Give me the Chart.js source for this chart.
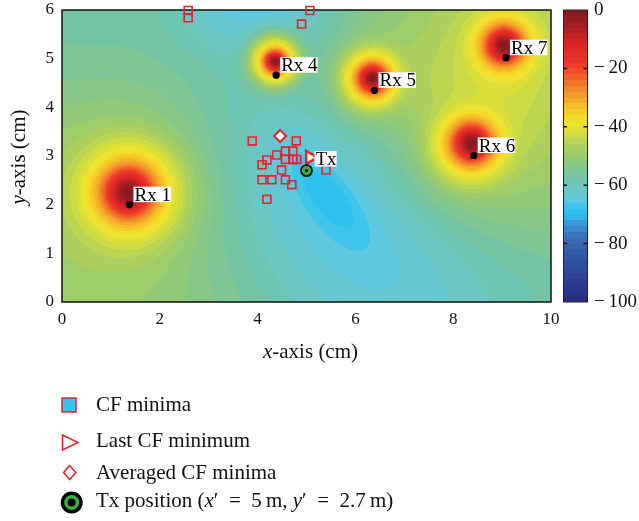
<!DOCTYPE html>
<html><head><meta charset="utf-8">
<script src="https://cdn.jsdelivr.net/npm/chart.js@4.4.1/dist/chart.umd.min.js"></script>
<style>html,body{margin:0;padding:0;background:#fff;overflow:hidden}#wrap{width:639px;height:521px;position:relative}</style>
</head><body><div id="wrap"><canvas id="c" width="639" height="521"></canvas></div>
<script>
// ---------------- data ----------------
const xTicks = [0, 2, 4, 6, 8, 10];
const yTicks = [0, 1, 2, 3, 4, 5, 6];
const cbTicks = [0, -20, -40, -60, -80, -100];

const rxNames = ['Rx 1', 'Rx 4', 'Rx 5', 'Rx 6', 'Rx 7'];
const rxX = [1.38, 4.38, 6.39, 8.42, 9.08];
const rxY = [2.00, 4.66, 4.35, 3.01, 5.02];

const cfMinX = [3.89, 4.79, 4.57, 4.72, 4.39, 4.19, 4.57, 4.72, 4.80, 4.09, 4.49, 5.40, 4.09, 4.29, 4.57, 4.70, 4.19, 2.58, 2.58, 4.90, 5.07];
const cfMinY = [3.31, 3.31, 3.10, 3.10, 3.02, 2.92, 2.93, 2.93, 2.93, 2.82, 2.71, 2.71, 2.51, 2.51, 2.51, 2.41, 2.11, 5.99, 5.84, 5.71, 5.99];
const lastMinX = [5.07];
const lastMinY = [2.97];
const avgMinX = [4.46];
const avgMinY = [3.41];
const txX = [5.0];
const txY = [2.7];

// cost-function map (dB)
const peakX = [1.36, 4.36, 6.35, 8.38, 9.04];
const peakY = [2.25, 4.94, 4.59, 3.26, 5.27];
const peakSpread = [1.3, 0.55, 0.75, 1.0, 0.95];
const haloAmp = [7, 3, 5, 8, 6];
const haloSigma = [1.2, 0.5, 0.8, 1.3, 1.1];
const profileDist = [0, 0.1, 0.2, 0.3, 0.4, 0.5, 0.65, 0.8, 1.0, 1.3, 2.0];
const profileDb = [0, -3, -9, -16, -24, -31, -38, -43, -50, -60, -80];
const bgLevel = -50;
const dipX = [5.37, 5.5, 4.0, 0.0, 9.5];
const dipY = [2.28, 2.0, 6.3, 6.0, -0.5];
const dipDepth = [-5.5, -14, -12, -6, -6];
const dipSigmaA = [0.85, 2.8, 1.3, 1.5, 3.0];
const dipSigmaB = [0.35, 1.9, 0.9, 1.5, 2.0];
const dipAngle = [-51, -53, 0, 0, 0];

const cmapValues = [0, -6, -12, -18, -23, -28, -33, -38, -42, -46, -50, -54, -58, -62, -65, -68, -70, -73, -78, -86, -94, -100];
const cmapColors = ['#7c1a1e','#a81e24','#dc2528','#ec3328','#f0622a','#f2922a','#f5be28','#f3e32b','#d6de3e','#b2d257','#98cb70','#82c68c','#70c4ac','#6ac7c9','#5ec8df','#30c3ef','#2fc0ef','#3a98d8','#3a6cb4','#2f52a0','#2a3c8e','#262c7c'];

// ---------------- helpers ----------------
const SERIF = '"Liberation Serif", "Times New Roman", serif';
const RED = '#e3242b';
const GREEN = '#3cb043';
const cmapRGB = cmapColors.map(h => [parseInt(h.slice(1,3),16), parseInt(h.slice(3,5),16), parseInt(h.slice(5,7),16)]);
function colorFor(v) {
  if (v >= cmapValues[0]) return cmapRGB[0];
  for (let k = 1; k < cmapValues.length; k++) {
    if (v >= cmapValues[k]) {
      const t = (cmapValues[k-1] - v) / (cmapValues[k-1] - cmapValues[k]);
      const a = cmapRGB[k-1], b = cmapRGB[k];
      return [a[0]+(b[0]-a[0])*t, a[1]+(b[1]-a[1])*t, a[2]+(b[2]-a[2])*t];
    }
  }
  return cmapRGB[cmapRGB.length-1];
}
function profile(d) {
  const n = profileDist.length;
  if (d >= profileDist[n-1]) {
    const s = (profileDb[n-1]-profileDb[n-2])/(profileDist[n-1]-profileDist[n-2]);
    return profileDb[n-1] + (d - profileDist[n-1]) * s;
  }
  for (let k = 1; k < n; k++) if (d <= profileDist[k]) {
    const t = (d - profileDist[k-1]) / (profileDist[k] - profileDist[k-1]);
    return profileDb[k-1] + t * (profileDb[k] - profileDb[k-1]);
  }
  return profileDb[n-1];
}
function fieldAt(x, y) {
  let bg = bgLevel;
  for (let k = 0; k < dipX.length; k++) {
    const a = dipAngle[k] * Math.PI / 180, dx = x - dipX[k], dy = y - dipY[k];
    const u = dx*Math.cos(a) + dy*Math.sin(a), v = -dx*Math.sin(a) + dy*Math.cos(a);
    bg += dipDepth[k] * Math.exp(-(u*u/(2*dipSigmaA[k]**2) + v*v/(2*dipSigmaB[k]**2)));
  }
  for (let i = 0; i < peakX.length; i++) {
    const d2 = (x-peakX[i])**2 + (y-peakY[i])**2;
    bg += haloAmp[i] * Math.exp(-d2/(2*haloSigma[i]**2));
  }
  let p = Math.pow(10, bg/10);
  for (let i = 0; i < peakX.length; i++) {
    const d = Math.hypot(x-peakX[i], y-peakY[i]) / peakSpread[i];
    p += Math.pow(10, profile(d)/10);
  }
  return Math.min(0, 10*Math.log10(p));
}
const BAND = 2;
function band(v) { return (Math.floor(v / BAND) + 0.5) * BAND; }

let fieldCache = null, fieldKey = '';
function buildField(chart) {
  const {left, top, right, bottom} = chart.chartArea;
  const key = [left, top, right, bottom].join(',');
  if (fieldCache && key === fieldKey) return fieldCache;
  const xs = chart.scales.x, ys = chart.scales.y;
  const w = Math.round(right-left), h = Math.round(bottom-top);
  const off = document.createElement('canvas'); off.width = w; off.height = h;
  const octx = off.getContext('2d');
  const img = octx.createImageData(w, h);
  for (let j = 0; j < h; j++) {
    const yv = ys.getValueForPixel(top + j + 0.5);
    for (let i = 0; i < w; i++) {
      const xv = xs.getValueForPixel(left + i + 0.5);
      const c = colorFor(band(fieldAt(xv, yv)));
      const o = (j*w + i) * 4;
      img.data[o] = c[0]; img.data[o+1] = c[1]; img.data[o+2] = c[2]; img.data[o+3] = 255;
    }
  }
  octx.putImageData(img, 0, 0);
  fieldCache = off; fieldKey = key;
  return off;
}
function drawSegments(ctx, segs, x, y, size, align) {
  const widths = segs.map(s => { ctx.font = (s[1] ? 'italic ' : '') + size + 'px ' + SERIF; return ctx.measureText(s[0]).width; });
  const total = widths.reduce((a,b)=>a+b,0);
  let cx = align === 'center' ? x - total/2 : x;
  segs.forEach((s, k) => { ctx.font = (s[1] ? 'italic ' : '') + size + 'px ' + SERIF; ctx.fillText(s[0], cx, y); cx += widths[k]; });
}

const mapPlugin = {
  id: 'mapPlugin',
  beforeDatasetsDraw(chart) {
    const ctx = chart.ctx, ca = chart.chartArea;
    ctx.save();
    ctx.drawImage(buildField(chart), Math.round(ca.left), Math.round(ca.top));
    ctx.strokeStyle = '#111'; ctx.lineWidth = 1.5;
    ctx.strokeRect(ca.left, ca.top, ca.right-ca.left, ca.bottom-ca.top);
    ctx.restore();
  },
  afterDatasetsDraw(chart) {
    const ctx = chart.ctx;
    ctx.save();
    const txMeta = chart.getDatasetMeta(0);
    txMeta.data.forEach(pt => { ctx.fillStyle = '#000'; ctx.beginPath(); ctx.arc(pt.x, pt.y, 1.6, 0, Math.PI*2); ctx.fill(); });
    ctx.font = '19px ' + SERIF; ctx.textBaseline = 'alphabetic'; ctx.textAlign = 'left';
    const label = (txt, tx, by) => {
      const w = ctx.measureText(txt).width;
      ctx.fillStyle = '#fff'; ctx.fillRect(tx - 1, by - 14, w + 1, 15.5);
      ctx.fillStyle = '#000'; ctx.fillText(txt, tx, by);
    };
    const rxMeta = chart.getDatasetMeta(3);
    rxMeta.data.forEach((pt, i) => label(rxNames[i], pt.x + 5, pt.y - 4));
    txMeta.data.forEach(pt => label('Tx', pt.x + 9, pt.y - 5.5));
    ctx.restore();
  },
  afterDraw(chart) {
    const ctx = chart.ctx, cb = chart.scales.cb, ca = chart.chartArea;
    ctx.save();
    const bx = cb.left + 12, bw = 24;
    for (let y = Math.floor(cb.top); y < cb.bottom; y++) {
      const v = cb.getValueForPixel(y + 0.5);
      const c = colorFor(band(v));
      ctx.fillStyle = 'rgb(' + c.map(Math.round).join(',') + ')';
      ctx.fillRect(bx, y, bw, 1);
    }
    ctx.strokeStyle = '#222'; ctx.lineWidth = 1;
    ctx.strokeRect(bx + 0.5, cb.top, bw, cb.bottom - cb.top);
    ctx.lineWidth = 1.5; ctx.strokeStyle = '#111';
    cbTicks.forEach(v => {
      if (v === 0 || v === -100) return;
      const y = cb.getPixelForValue(v);
      ctx.beginPath(); ctx.moveTo(bx, y); ctx.lineTo(bx + 4, y); ctx.moveTo(bx + bw + 0.5, y); ctx.lineTo(bx + bw - 3.5, y); ctx.stroke();
    });
    ctx.fillStyle = '#111'; ctx.textBaseline = 'alphabetic';
    drawSegments(ctx, [['x', true], ['-axis (cm)', false]], (ca.left + ca.right)/2 + 4, 358, 21, 'center');
    ctx.save(); ctx.translate(25, (ca.top + ca.bottom)/2 + 1); ctx.rotate(-Math.PI/2);
    drawSegments(ctx, [['y', true], ['-axis (cm)', false]], 0, 0, 21, 'center');
    ctx.restore();
    ctx.lineWidth = 1.5; ctx.strokeStyle = RED;
    ctx.fillStyle = '#3cc2ee'; ctx.fillRect(62, 398, 14, 14); ctx.strokeRect(62, 398, 14, 14);
    ctx.fillStyle = '#fff';
    ctx.beginPath(); ctx.moveTo(62.5, 435); ctx.lineTo(78, 442.5); ctx.lineTo(62.5, 450); ctx.closePath(); ctx.fill(); ctx.stroke();
    ctx.beginPath(); ctx.moveTo(69.7, 465.5); ctx.lineTo(75.8, 472.5); ctx.lineTo(69.7, 479.5); ctx.lineTo(63.6, 472.5); ctx.closePath(); ctx.fill(); ctx.stroke();
    ctx.fillStyle = '#000'; ctx.beginPath(); ctx.arc(71.7, 502.5, 11, 0, Math.PI*2); ctx.fill();
    ctx.fillStyle = GREEN; ctx.beginPath(); ctx.arc(71.7, 502.5, 7.5, 0, Math.PI*2); ctx.fill();
    ctx.fillStyle = '#000'; ctx.beginPath(); ctx.arc(71.7, 502.5, 4, 0, Math.PI*2); ctx.fill();
    ctx.fillStyle = '#111';
    const ds = chart.data.datasets;
    drawSegments(ctx, [[ds[4].label, false]], 96, 411, 21, 'left');
    drawSegments(ctx, [[ds[1].label, false]], 96, 447, 21, 'left');
    drawSegments(ctx, [[ds[2].label, false]], 96, 479, 21, 'left');
    drawSegments(ctx, [['Tx position (', false], ['x', true], ['\u2032  =  ' + txX[0] + '\u2009m, ', false], ['y', true], ['\u2032  =  ' + txY[0] + '\u2009m)', false]], 96, 507, 21, 'left');
    ctx.restore();
  }
};

const pts = (xs, ys) => xs.map((x, i) => ({x, y: ys[i]}));

new Chart(document.getElementById('c'), {
  type: 'scatter',
  data: {
    datasets: [
      { label: 'Tx position', data: pts(txX, txY), pointStyle: 'circle', pointRadius: 5.5, backgroundColor: GREEN, borderColor: '#111', borderWidth: 1.8, clip: false },
      { label: 'Last CF minimum', data: pts(lastMinX, lastMinY), pointStyle: 'triangle', rotation: 90, pointRadius: 7.5, backgroundColor: '#fff', borderColor: RED, borderWidth: 2.5, clip: false },
      { label: 'Averaged CF minima', data: pts(avgMinX, avgMinY), pointStyle: 'rectRot', pointRadius: 6, backgroundColor: '#fff', borderColor: RED, borderWidth: 2, clip: false },
      { label: 'Rx', data: pts(rxX, rxY), pointStyle: 'circle', pointRadius: 3.6, backgroundColor: '#000', borderColor: '#000', borderWidth: 0, clip: false },
      { label: 'CF minima', data: pts(cfMinX, cfMinY), pointStyle: 'rect', pointRadius: 5.6, backgroundColor: 'rgba(0,0,0,0)', borderColor: RED, borderWidth: 1.6, clip: false }
    ]
  },
  options: {
    responsive: false, animation: false, events: [],
    layout: { padding: { top: 8, bottom: 159, left: 0, right: 0 } },
    plugins: { legend: { display: false }, tooltip: { enabled: false } },
    scales: {
      x: {
        type: 'linear', min: 0, max: 10, position: 'bottom',
        grid: { display: false, drawTicks: true, tickLength: 8 }, border: { display: false },
        ticks: { color: '#111', font: { family: SERIF, size: 17, lineHeight: 0.9 }, padding: 2 },
        afterBuildTicks: s => { s.ticks = xTicks.map(v => ({value: v})); },
        afterFit: s => { s.height = 60; }
      },
      y: {
        type: 'linear', min: 0, max: 6, position: 'left',
        grid: { display: false, drawTicks: true, tickLength: 6 }, border: { display: false },
        ticks: { color: '#111', font: { family: SERIF, size: 17, lineHeight: 0.6 }, padding: 2 },
        afterBuildTicks: s => { s.ticks = yTicks.map(v => ({value: v})); },
        afterFit: s => { s.width = 62; }
      },
      cb: {
        type: 'linear', axis: 'y', min: -100, max: 0, position: 'right',
        grid: { display: false, drawTicks: true, tickLength: 41 }, border: { display: false },
        ticks: { color: '#111', font: { family: SERIF, size: 19, lineHeight: 0.6 }, padding: 2,
          callback: v => v === 0 ? '0' : '\u2212' + '\u2009' + Math.abs(v) },
        afterBuildTicks: s => { s.ticks = cbTicks.map(v => ({value: v})); },
        afterFit: s => { s.width = 88; }
      }
    }
  },
  plugins: [mapPlugin]
});
</script></body></html>
